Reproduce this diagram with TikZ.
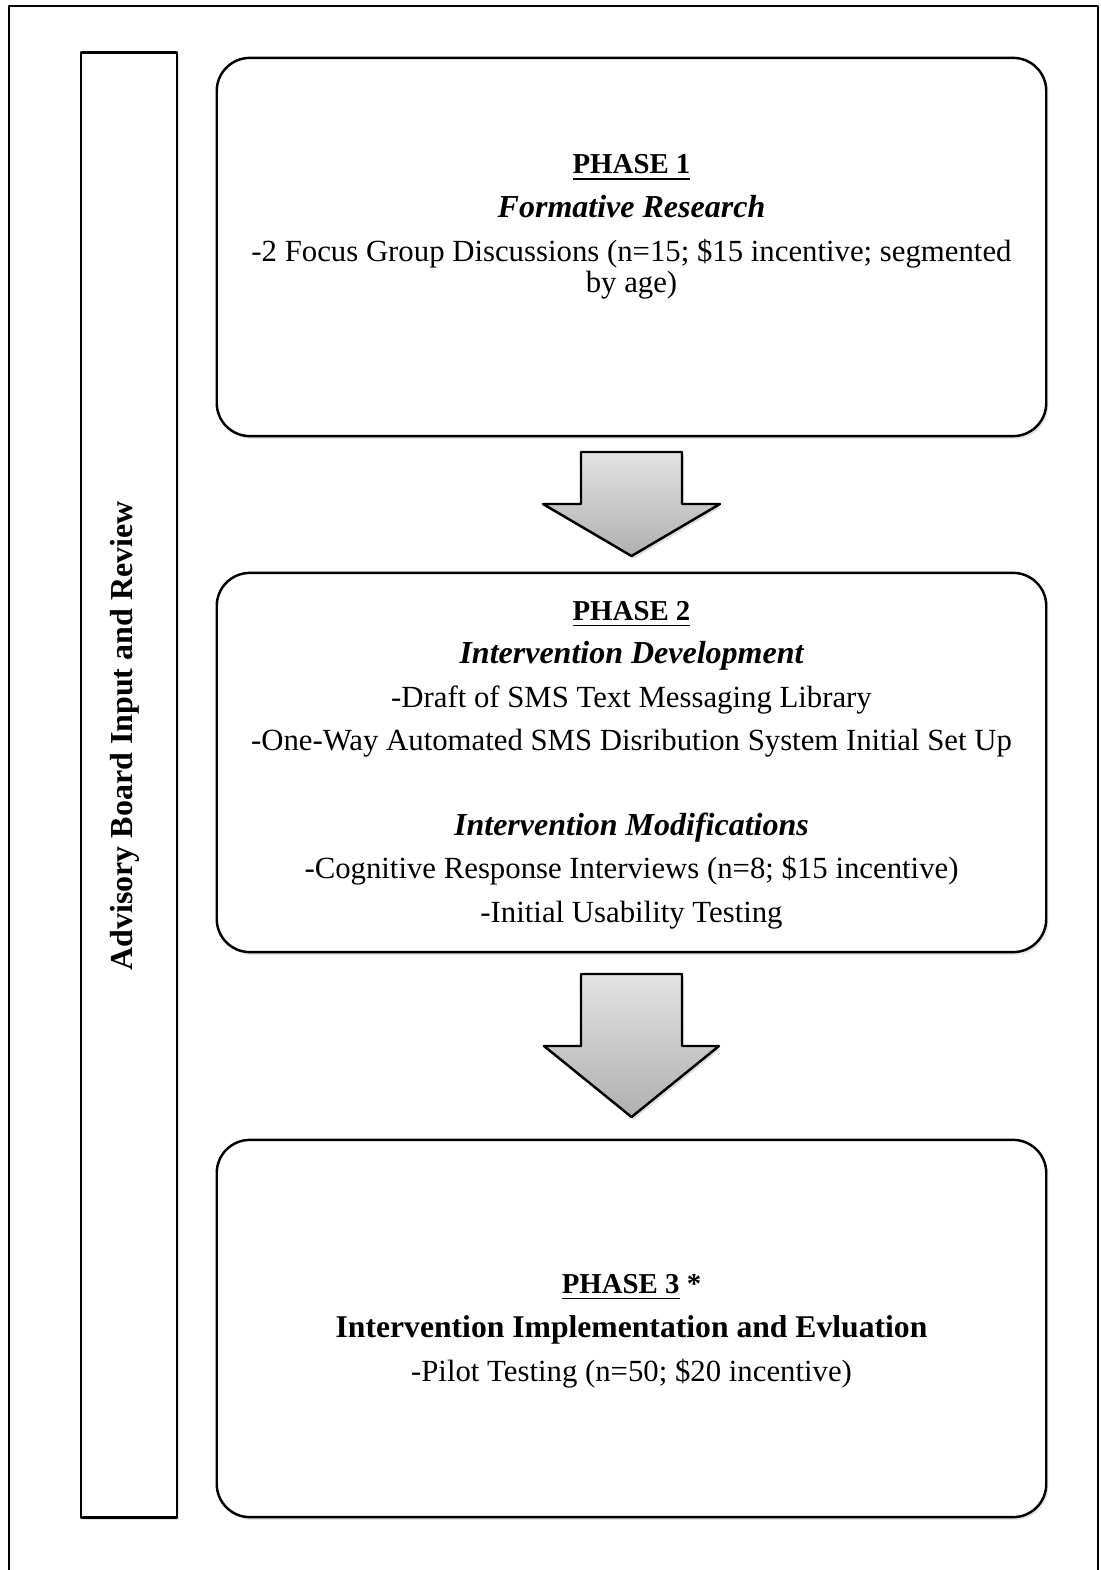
\documentclass[tikz,border=0pt]{standalone}
\usepackage{fontspec}
\setmainfont{Liberation Serif}
\usetikzlibrary{shadows}

\begin{document}
\begin{tikzpicture}[line cap=round,line join=round,x=0.01cm,y=-0.01cm,
  phasebox/.style={draw,line width=0.7pt,rounded corners=9.4pt,fill=white,minimum width=8.29cm,
    drop shadow={shadow xshift=0.6pt,shadow yshift=-0.8pt,opacity=0.2}},
  sidebox/.style={draw,line width=0.7pt,fill=white,minimum width=0.96cm,minimum height=14.64cm,
    drop shadow={shadow xshift=0.6pt,shadow yshift=-0.8pt,opacity=0.2}},
  bigarrow/.style={draw,line width=0.7pt,top color=gray!22,bottom color=gray!62,
    drop shadow={shadow xshift=0.6pt,shadow yshift=-0.8pt,opacity=0.25}},
  txt/.style={anchor=base,inner sep=0pt,font=\fontsize{8.75}{10}\selectfont},
  headtxt/.style={txt,font=\fontsize{8.2}{10}\selectfont\bfseries},
  boldtxt/.style={txt,font=\fontsize{9}{10}\selectfont\bfseries},
  subtxt/.style={txt,font=\fontsize{9.1}{10}\selectfont\bfseries\itshape}]

\useasboundingbox (0,0) rectangle (1101,1570);
\clip (0,0) rectangle (1101,1570);

% frame
\draw[line width=0.8pt] (9,6) rectangle (1098,1600);

% side bar
\node[sidebox] (side) at (129,785) {};
\node[anchor=base,rotate=90,inner sep=0pt,font=\fontsize{9.1}{11}\selectfont\bfseries] (sidetext) at (132,736) {Advisory Board Input and Review};

% phase boxes
\node[phasebox,minimum height=3.78cm] (phaseone) at (631.5,247) {};
\node[phasebox,minimum height=3.79cm] (phasetwo) at (631.5,762.5) {};
\node[phasebox,minimum height=3.77cm] (phasethree) at (631.5,1328.5) {};

% arrows
\shade[bigarrow] (581,452) -- (682,452) -- (682,504) -- (720,504) -- (631.5,556) -- (543,504) -- (581,504) -- cycle;
\shade[bigarrow] (581,974) -- (682,974) -- (682,1046) -- (719,1046) -- (631.5,1117) -- (544,1046) -- (581,1046) -- cycle;

% phase 1
\node[headtxt] (onehead) at (631.5,174) {\underline{PHASE 1}};
\node[subtxt] (onesub) at (631.5,218) {Formative Research};
\node[txt] (onea) at (631.5,262) {-2 Focus Group Discussions (n=15; \$15 incentive; segmented};
\node[txt] (oneb) at (631.5,293) {by age)};

% phase 2
\node[headtxt] (twohead) at (631.5,620) {\underline{PHASE 2}};
\node[subtxt] (twosub) at (631.5,663) {Intervention Development};
\node[txt] (twoa) at (631.5,707) {-Draft of SMS Text Messaging Library};
\node[txt] (twob) at (631.5,750) {-One-Way Automated SMS Disribution System Initial Set Up};
\node[subtxt] (twosubb) at (631.5,835) {Intervention Modifications};
\node[txt] (twoc) at (631.5,878) {-Cognitive Response Interviews (n=8; \$15 incentive)};
\node[txt] (twod) at (631.5,922) {-Initial Usability Testing};

% phase 3
\node[headtxt] (threehead) at (631.5,1293) {\underline{PHASE 3} *};
\node[boldtxt] (threesub) at (631.5,1337) {Intervention Implementation and Evluation};
\node[txt] (threea) at (631.5,1381) {-Pilot Testing (n=50; \$20 incentive)};

\end{tikzpicture}
\end{document}
